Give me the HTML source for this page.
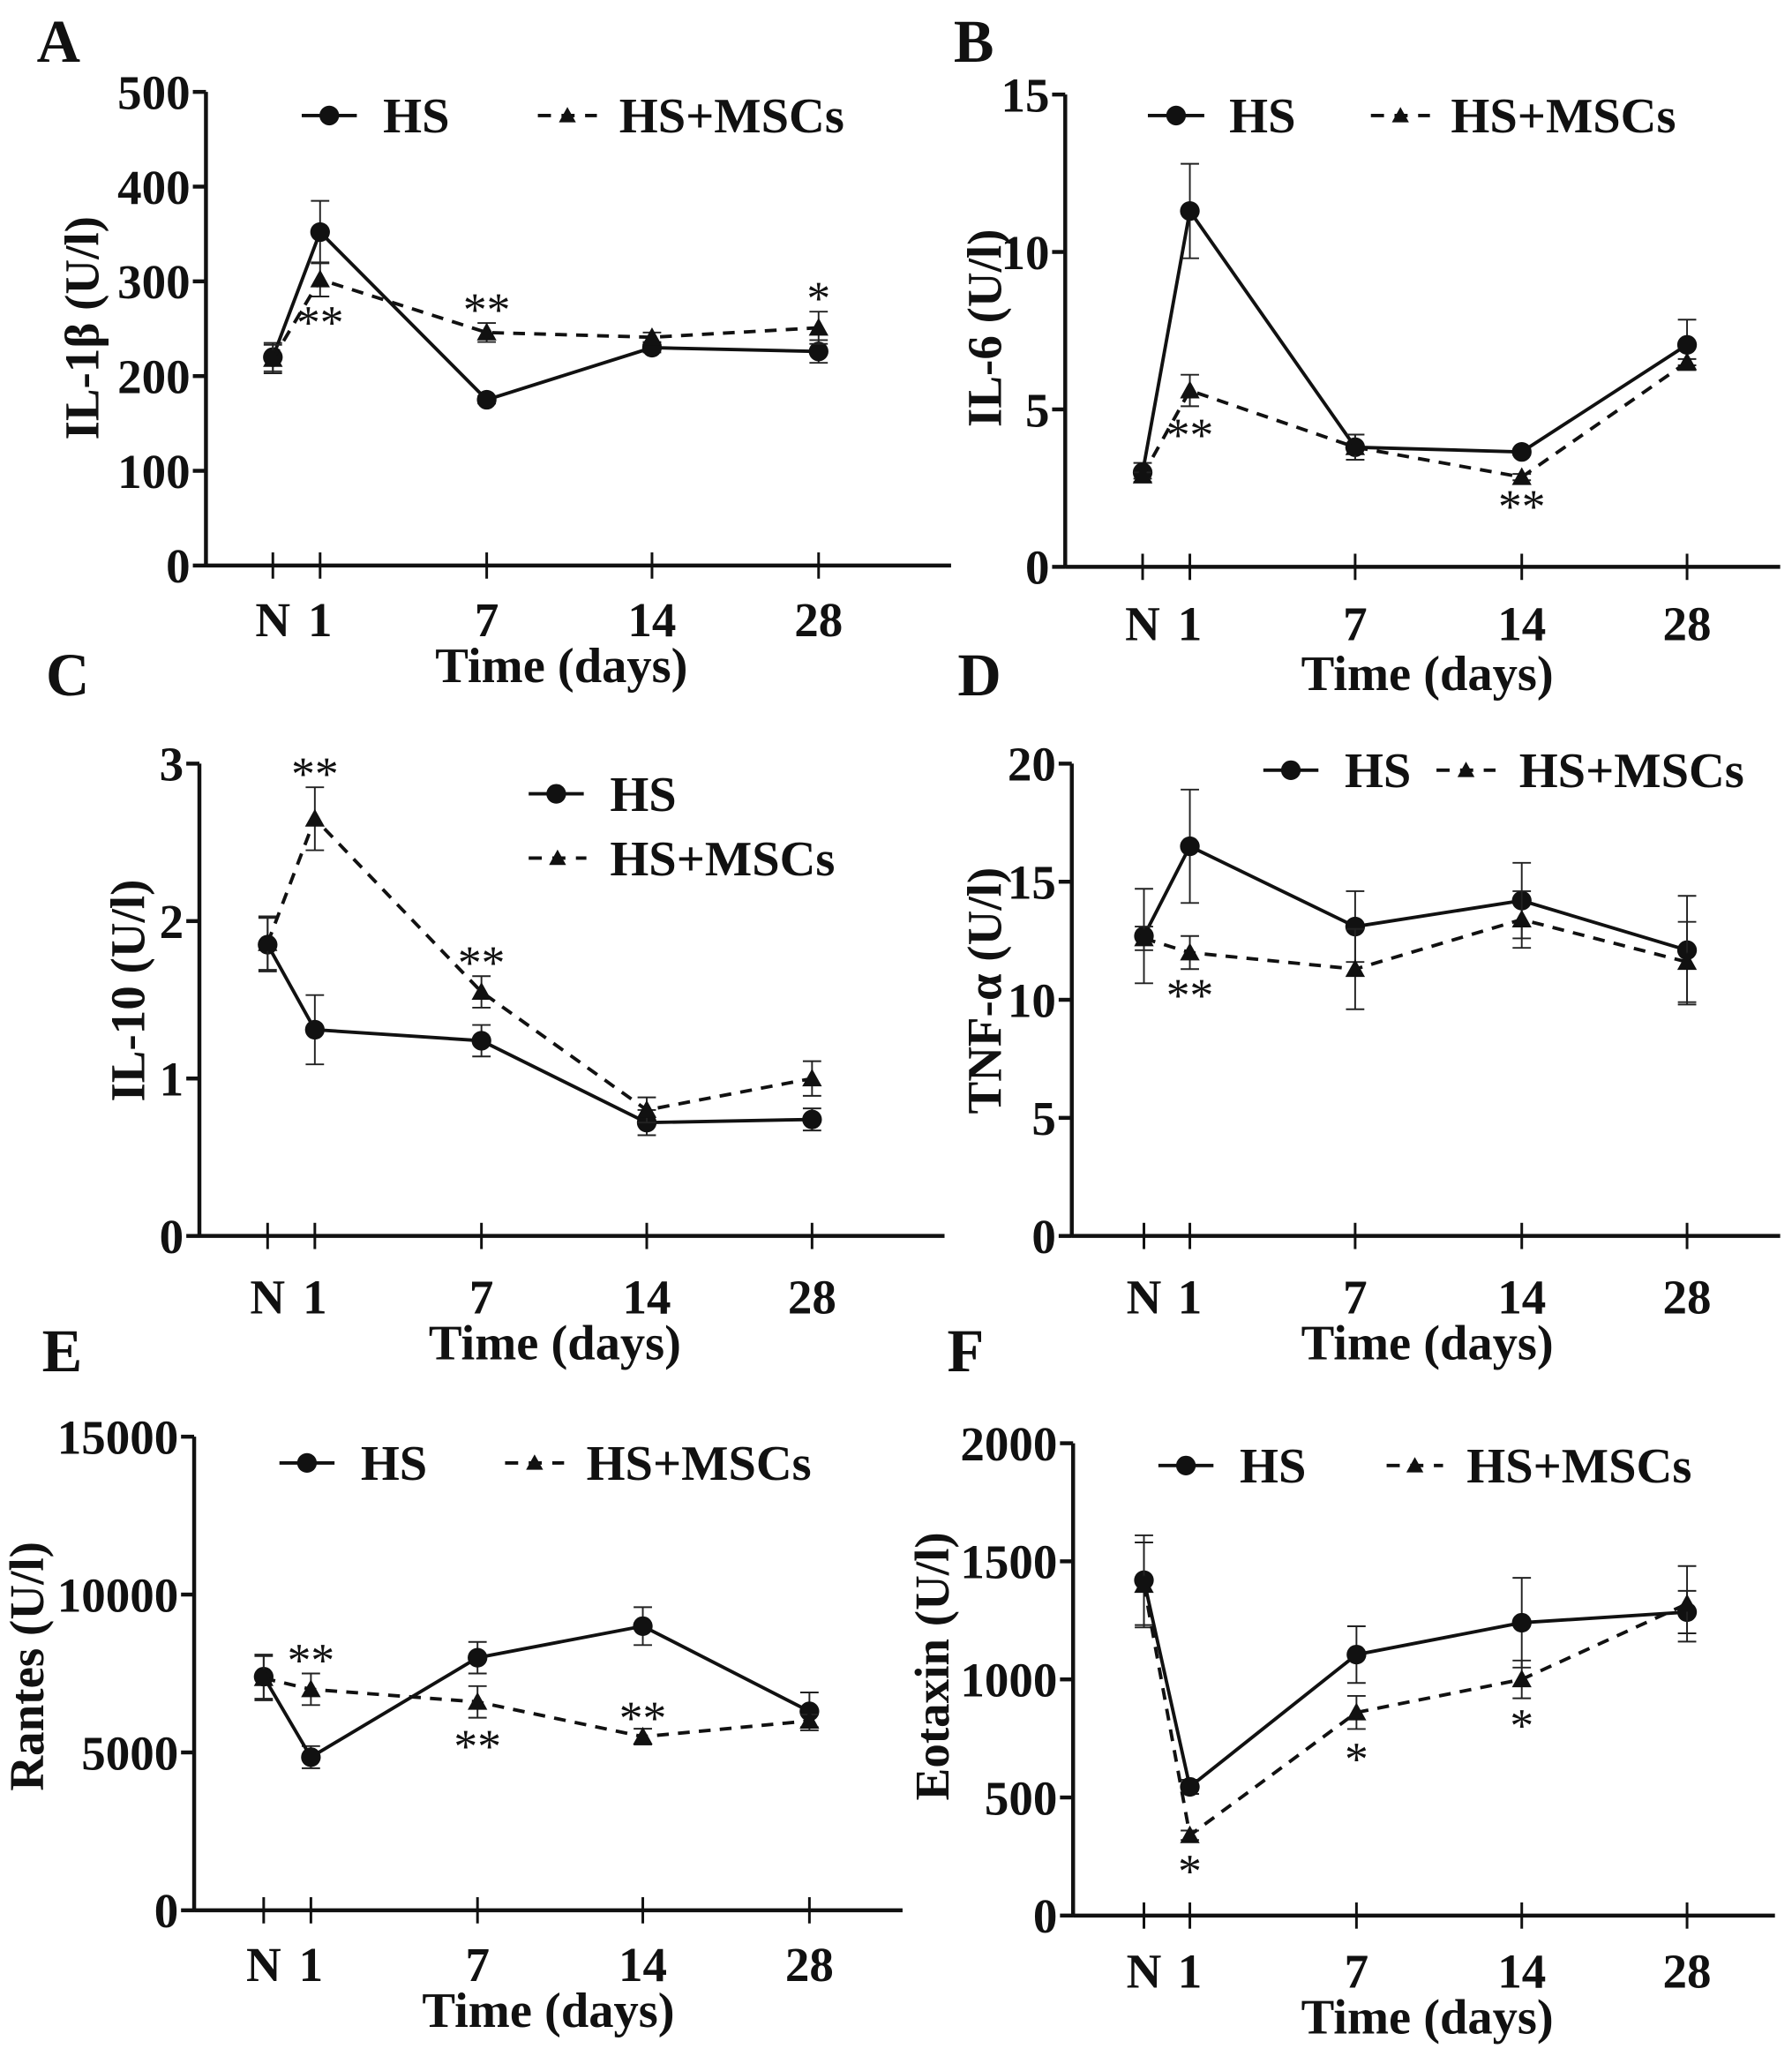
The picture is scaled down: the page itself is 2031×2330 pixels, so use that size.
<!DOCTYPE html>
<html><head><meta charset="utf-8"><style>
html,body{margin:0;padding:0;background:#fff;}
svg{display:block;}
text{font-family:"Liberation Serif","Times New Roman",serif;font-weight:bold;fill:#111;}
</style></head><body>
<svg id="fig" width="2031" height="2330" viewBox="0 0 1366 1567" xmlns="http://www.w3.org/2000/svg"></svg>
<script>
const categories = ["N","1","7","14","28"];
const hsA=[220,352,175,230,226], hsAerr=[15,33,4,5,12], msA=[218,302,246,241,251], msAerr=[15,18,10,5,17];
const hsB=[3.0,11.3,3.8,3.65,7.05], hsBerr=[0.3,1.5,0.4,0.1,0.8], msB=[2.9,5.6,3.8,2.85,6.5], msBerr=[0.1,0.5,0.4,0.1,0.1];
const hsC=[1.85,1.31,1.24,0.72,0.74], hsCerr=[0.17,0.22,0.1,0.08,0.07], msC=[1.86,2.65,1.55,0.8,1.0], msCerr=[0.17,0.2,0.1,0.08,0.11];
const hsD=[12.7,16.5,13.1,14.2,12.1], hsDerr=[2,2.4,1.5,1.6,2.3], msD=[12.6,12.0,11.3,13.4,11.6], msDerr=[0.5,0.7,1.7,1.2,1.7];
const hsE=[7400,4850,8000,9000,6300], hsEerr=[700,350,500,600,600], msE=[7350,7000,6600,5500,6000], msEerr=[700,500,500,250,200];
const hsF=[1420,545,1105,1240,1285], hsFerr=[190,30,120,190,90], msF=[1400,340,860,1000,1320], msFerr=[180,20,70,80,160];
const ticksA=[0,100,200,300,400,500], ticksB=[0,5,10,15], ticksC=[0,1,2,3], ticksD=[0,5,10,15,20], ticksE=[0,5000,10000,15000], ticksF=[0,500,1000,1500,2000];

const NS="http://www.w3.org/2000/svg", svg=document.getElementById('fig');
function mk(tag,attrs,parent,txt){const e=document.createElementNS(NS,tag);for(const k in attrs)e.setAttribute(k,attrs[k]);if(txt!==undefined)e.textContent=txt;(parent||svg).appendChild(e);return e;}

const panels=[
 {id:'a',letter:'A',lx:28,ly:47,ax:157,y0:431,yt:70,xe:725,xs:[208,244,371,497,624],ticks:ticksA,max:500,hs:hsA,he:hsAerr,ms:msA,me:msAerr,ylab:'IL-1β (U/l)',ylx:62,yly:250,tly:472,xly:507,xlx:428,
  leg:[[230,272,88,292],[410,455,88,472]],stars:[[1,'**',-1,20],[2,'**',1,-10],[4,'*',1,-10]]},
 {id:'b',letter:'B',lx:727,ly:47,ax:812,y0:432,yt:72,xe:1357,xs:[871,907,1033,1160,1286],ticks:ticksB,max:15,hs:hsB,he:hsBerr,ms:msB,me:msBerr,ylab:'IL-6 (U/l)',ylx:750,yly:250,tly:475,xly:513,xlx:1088,
  leg:[[875,918,88,937],[1045,1090,88,1106]],stars:[[1,'**',-1,22],[3,'**',-1,20]]},
 {id:'c',letter:'C',lx:35,ly:530,ax:152,y0:942,yt:582,xe:720,xs:[204,240,367,493,619],ticks:ticksC,max:3,hs:hsC,he:hsCerr,ms:msC,me:msCerr,ylab:'IL-10 (U/l)',ylx:97,yly:755,tly:988,xly:1023,xlx:423,
  leg:[[403,445,605,465],[403,447,654,465]],stars:[[1,'**',1,-10],[2,'**',1,-10]]},
 {id:'d',letter:'D',lx:730,ly:530,ax:817,y0:942,yt:582,xe:1357,xs:[872,907,1033,1160,1286],ticks:ticksD,max:20,hs:hsD,he:hsDerr,ms:msD,me:msDerr,ylab:'TNF-α (U/l)',ylx:750,yly:755,tly:988,xly:1023,xlx:1088,
  leg:[[963,1005,587,1025],[1095,1140,587,1158]],stars:[[1,'**',-1,20]]},
 {id:'e',letter:'E',lx:32,ly:1045,ax:148,y0:1456,yt:1095,xe:688,xs:[201,237,364,490,617],ticks:ticksE,max:15000,hs:hsE,he:hsEerr,ms:msE,me:msEerr,ylab:'Rantes (U/l)',ylx:20,yly:1270,tly:1497,xly:1532,xlx:418,
  leg:[[213,255,1115,275],[385,430,1115,447]],stars:[[1,'**',1,-10],[2,'**',-1,22],[3,'**',1,-8]]},
 {id:'f',letter:'F',lx:722,ly:1045,ax:818,y0:1460,yt:1100,xe:1353,xs:[872,907,1034,1160,1286],ticks:ticksF,max:2000,hs:hsF,he:hsFerr,ms:msF,me:msFerr,ylab:'Eotaxin (U/l)',ylx:710,yly:1270,tly:1502,xly:1537,xlx:1088,
  leg:[[883,925,1117,945],[1057,1100,1117,1118]],stars:[[1,'*',-1,24],[2,'*',-1,23],[3,'*',-1,21]]}
];

function tri(g,x,y,s,name){const t=mk('polygon',{points:`${x},${y-s} ${x-s},${y+s*0.8} ${x+s},${y+s*0.8}`,fill:'#111'},g);}

panels.forEach(p=>{
 const g=mk('g',{});
 const yS=v=>p.y0-(v/p.max)*(p.y0-p.yt);
 const xS=i=>p.xs[i];
 mk('text',{x:p.lx,y:p.ly,'font-size':46,},g,p.letter);
 mk('line',{x1:p.ax,y1:p.yt,x2:p.ax,y2:p.y0+1,stroke:'#111','stroke-width':3,},g);
 mk('line',{x1:p.ax,y1:p.y0,x2:p.xe,y2:p.y0,stroke:'#111','stroke-width':3,},g);
 p.ticks.forEach(t=>{const y=yS(t);
  mk('line',{x1:p.ax-10,y1:y,x2:p.ax,y2:y,stroke:'#111','stroke-width':3,},g);
  mk('text',{x:p.ax-12,y:y+13,'font-size':37,'text-anchor':'end',},g,String(t));});
 categories.forEach((c,i)=>{const x=xS(i);
  mk('line',{x1:x,y1:p.y0-10,x2:x,y2:p.y0+10,stroke:'#111','stroke-width':2,},g);
  mk('text',{x:x,y:p.tly+13,'font-size':37,'text-anchor':'middle',},g,c);});
 mk('text',{x:p.xlx,y:p.xly+13,'font-size':38,'text-anchor':'middle',},g,'Time (days)');
 mk('text',{x:p.ylx,y:p.yly,'font-size':37,'text-anchor':'middle',transform:`rotate(-90 ${p.ylx} ${p.yly})`,dy:13,},g,p.ylab);
 [[p.hs,p.he,'hs',null],[p.ms,p.me,'hs-mscs','9,7']].forEach(([vals,errs,nm,dash])=>{
  const sg=mk('g',{},g);
  vals.forEach((v,i)=>{const x=xS(i),y1=yS(v+errs[i]),y2=yS(v-errs[i]);
   const e=mk('path',{d:`M${x},${y1}V${y2}M${x-7},${y1}H${x+7}M${x-7},${y2}H${x+7}`,stroke:'#222','stroke-width':1.3,fill:'none'},sg);
   });
  const ln=mk('polyline',{points:vals.map((v,i)=>xS(i)+','+yS(v)).join(' '),fill:'none',stroke:'#111','stroke-width':2.6},sg);
  if(dash)ln.setAttribute('stroke-dasharray',dash);
  
  vals.forEach((v,i)=>{if(nm==='hs'){const c=mk('circle',{cx:xS(i),cy:yS(v),r:7.5,fill:'#111'},sg);}
   else tri(sg,xS(i),yS(v),7.5,'point-hs-mscs');});
 });
 p.stars.forEach(([i,s,dir,off])=>{
  const v=dir>0?p.ms[i]+p.me[i]:p.ms[i]-p.me[i];
  const y=yS(v)+off;
  mk('text',{x:xS(i),y:y+12,'font-size':36,'text-anchor':'middle',style:'font-weight:normal',},g,s);
 });
 const lg=mk('g',{},g);
 const [a,b]=p.leg;
 mk('line',{x1:a[0],y1:a[2],x2:a[1],y2:a[2],stroke:'#111','stroke-width':2.6},lg);
 mk('circle',{cx:(a[0]+a[1])/2,cy:a[2],r:7.5,fill:'#111',},lg);
 mk('text',{x:a[3],y:a[2]+13,'font-size':38,},lg,'HS');
 mk('line',{x1:b[0],y1:b[2],x2:b[1],y2:b[2],stroke:'#111','stroke-width':2.6,'stroke-dasharray':'10,8'},lg);
 tri(lg,(b[0]+b[1])/2,b[2],6.5,'legend-marker-hs-mscs');
 mk('text',{x:b[3],y:b[2]+13,'font-size':38,},lg,'HS+MSCs');
});
</script>
</body></html>
